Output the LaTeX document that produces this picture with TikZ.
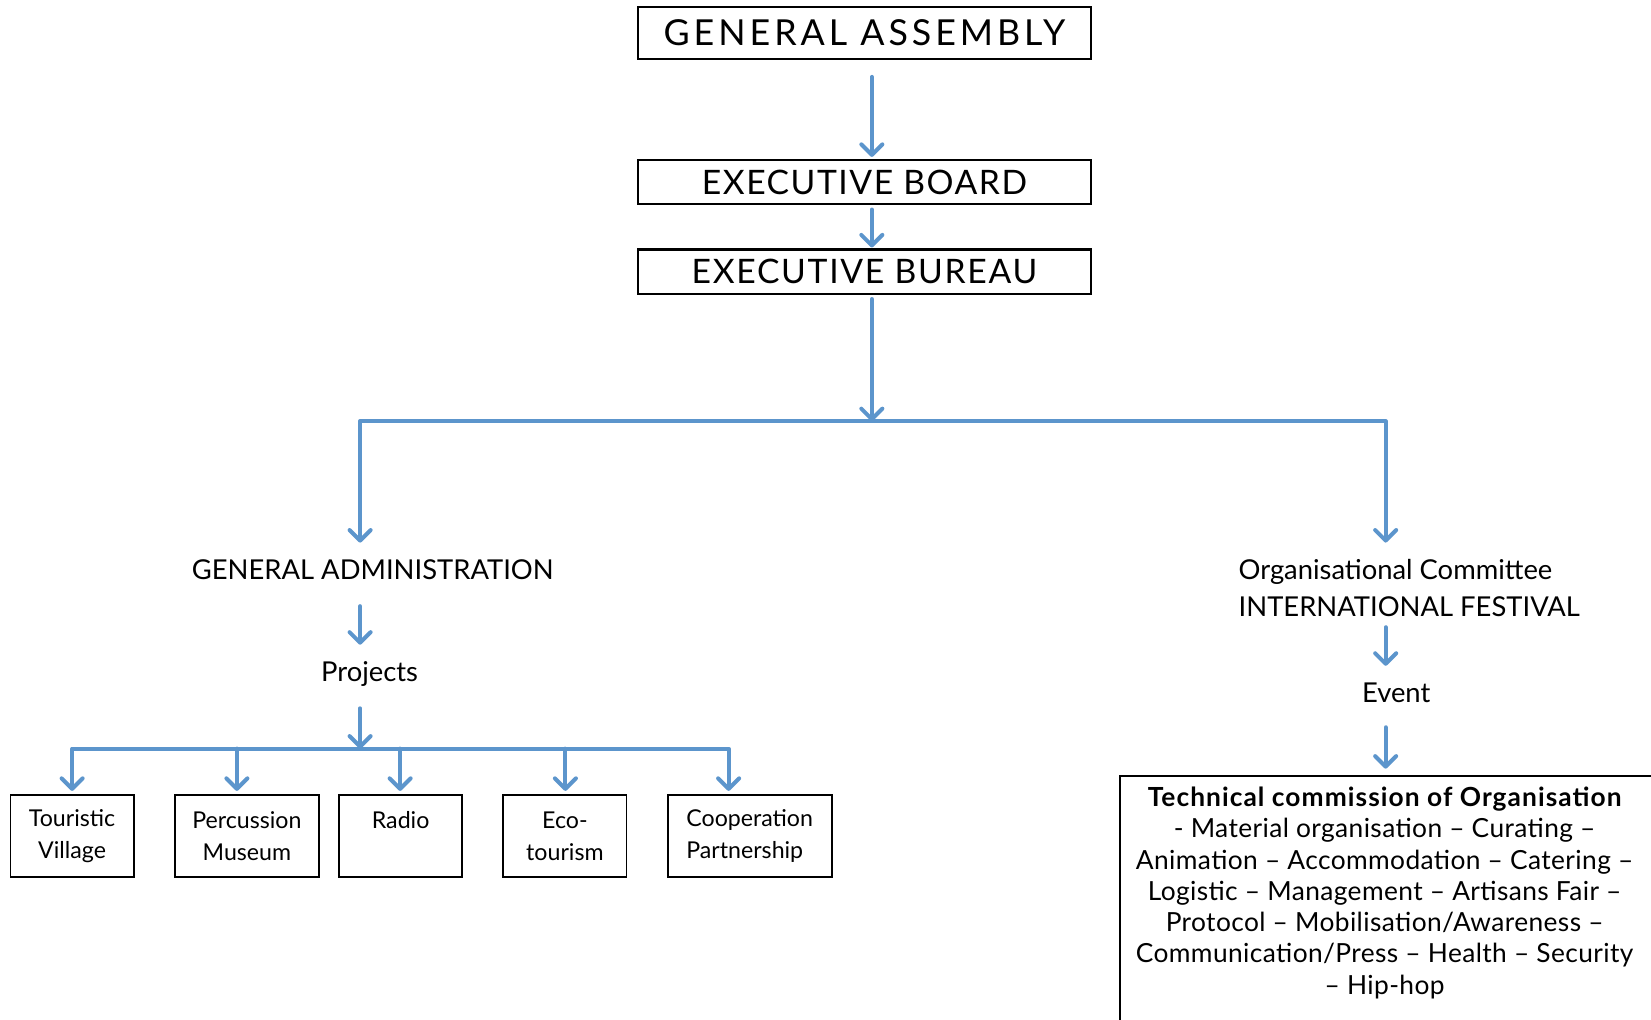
\documentclass[tikz,border=0pt]{standalone}
\usepackage{fontspec}
\setmainfont{Lato}
\newfontfamily\gafont{Lato}[LetterSpace=11]
\newfontfamily\ebfont{Lato}[LetterSpace=4.5]
\newfontfamily\bufont{Lato}[LetterSpace=5]
\newfontfamily\tcfont{Lato}[LetterSpace=1.5]
\newfontfamily\tcbfont{Lato}[LetterSpace=4]
\usetikzlibrary{arrows.meta,calc}
\definecolor{arrblue}{RGB}{92,149,204}
\begin{document}
\begin{tikzpicture}[x=0.5pt,y=-0.5pt,
  arr/.style={draw=arrblue, line width=1.9pt, line cap=round, line join=round, -{Straight Barb[round,length=5pt,width=10pt]}},
  hbox/.style={draw, line width=1pt, minimum width=215pt, inner sep=0pt},
  lbl/.style={inner sep=0pt, text height=9.3pt, text depth=0pt, font=\fontsize{13}{15}\selectfont},
  pbox/.style={draw, line width=0.9pt, minimum height=39pt, inner sep=0pt, align=center, font=\fontsize{11}{15}\selectfont}
]
\useasboundingbox (0,0) rectangle (1568,968);
\clip (0,0) rectangle (1568,968);

% top boxes
\node[hbox, minimum height=24.5pt, font=\gafont\fontsize{17}{20}\selectfont] (ga) at (821,31.5) {GENERAL ASSEMBLY};
\node[hbox, minimum height=21pt, font=\ebfont\fontsize{16}{19}\selectfont] (eb) at (821,173) {EXECUTIVE BOARD};
\node[hbox, minimum height=21pt, font=\bufont\fontsize{16}{19}\selectfont] (bu) at (821,258) {EXECUTIVE BUREAU};

% bus coordinates
\coordinate (bC) at (828,400);
\coordinate (bL) at (342,400);
\coordinate (bR) at (1316,400);

% second level
\node[lbl] (gadm) at (354,541) {GENERAL ADMINISTRATION};
\node[lbl] (proj) at (351,638) {Projects};
\node[lbl, anchor=west] (org1) at (1176,541) {Organisational Committee};
\node[lbl, anchor=west] (org2) at (1176,576) {INTERNATIONAL FESTIVAL};
\node[lbl] (ev) at (1326,658) {Event};

% project bus
\coordinate (pC) at (342,711);
\coordinate (p1) at (68,711);
\coordinate (p2) at (225,711);
\coordinate (p3) at (380,711);
\coordinate (p4) at (537,711);
\coordinate (p5) at (692,711);

% project boxes
\node[pbox, minimum width=58.5pt] (tv) at (68.5,794) {Touristic\\Village};
\node[pbox, minimum width=68.5pt] (pm) at (234.5,794) {Percussion\\Museum};
\node[pbox, minimum width=58.5pt] (ra) at (380.5,794) {Radio\\\mbox{}};
\node[pbox, minimum width=58.5pt] (et) at (536.5,794) {Eco-\\tourism};
\node[pbox, minimum width=78pt, align=left] (cp) at (712,794) {Cooperation\\Partnership};

% technical commission
\node[draw, line width=1pt, anchor=north west, minimum width=256pt, minimum height=150pt, inner sep=0pt] (tb) at (1063,736) {};
\node[inner sep=0pt, align=center, font=\tcfont\fontsize{12.5}{14.85}\selectfont] (tt) at (1315,848)
{{\tcbfont\bfseries Technical commission of Organisation}\\
- Material organisation – Curating –\\
Animation – Accommodation – Catering –\\
Logistic – Management – Artisans Fair –\\
Protocol – Mobilisation/Awareness –\\
Communication/Press – Health – Security\\
– Hip-hop};

% connectors
\draw[arr, shorten <=8pt, shorten >=1pt] ([xshift=3.5pt]ga.south) -- ([xshift=3.5pt]eb.north);
\draw[arr, shorten <=2pt, shorten >=0.5pt] ([xshift=3.5pt]eb.south) -- ([xshift=3.5pt]bu.north);
\draw[arr, shorten <=2pt] ([xshift=3.5pt]bu.south) -- (bC);
\draw[arr, shorten >=8pt] (bC) -| (bL |- gadm.north);
\draw[arr, shorten >=8pt] (bC) -| (bR |- org1.north);
\draw[arr, shorten <=12.5pt, shorten >=8pt] (bL |- gadm.south) -- (bL |- proj.north);
\draw[arr, shorten <=12.5pt] (bL |- proj.south) -- (pC);
\draw[arr, shorten >=1.5pt] (pC) -| (tv.north);
\draw[arr, shorten >=1.5pt] (pC) -| (p5 |- cp.north);
\draw[arr, shorten >=1.5pt] (p2) -- (p2 |- pm.north);
\draw[arr, shorten >=1.5pt] (p3) -- (p3 |- ra.north);
\draw[arr, shorten >=1.5pt] (p4) -- (p4 |- et.north);
\draw[arr, shorten <=5pt, shorten >=8pt] (bR |- org2.south) -- (bR |- ev.north);
\draw[arr, shorten <=11.5pt, shorten >=3pt] (bR |- ev.south) -- (bR |- tb.north);
\end{tikzpicture}
\end{document}
